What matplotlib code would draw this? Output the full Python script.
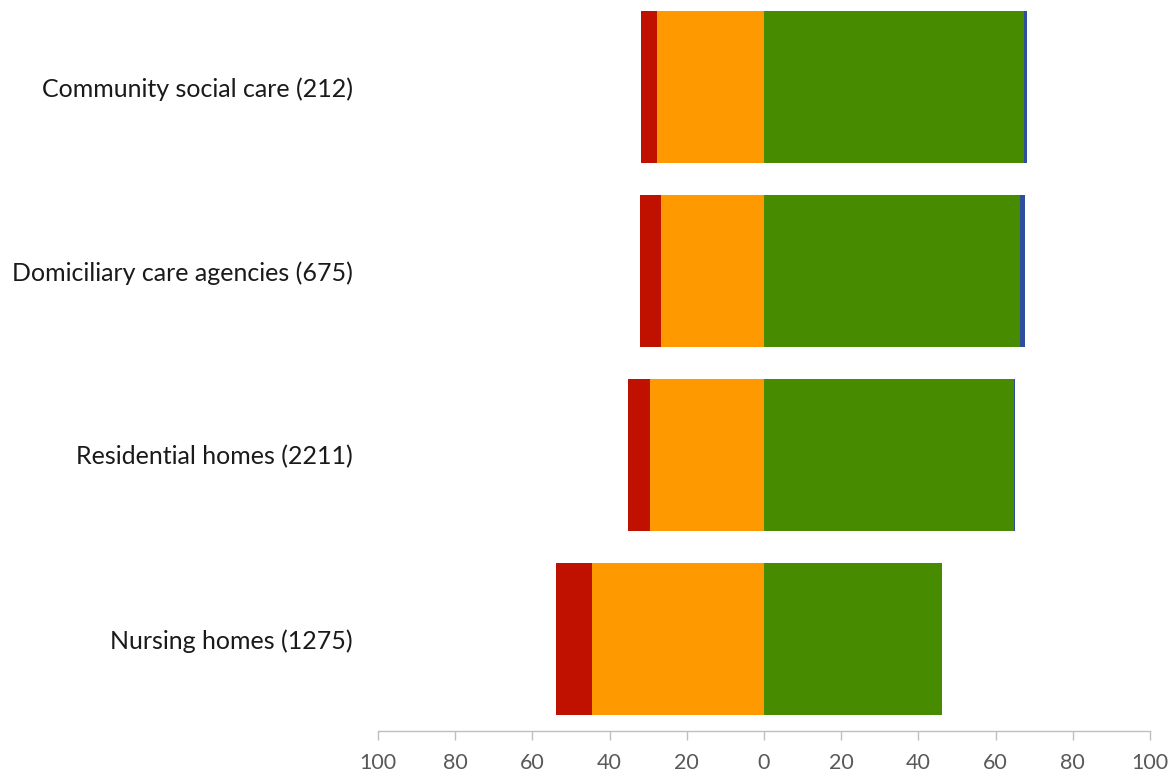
import matplotlib
matplotlib.use("Agg")
import matplotlib.pyplot as plt
from matplotlib.ticker import FuncFormatter
import numpy as np

categories = [
    "Community social care (212)",
    "Domiciliary care agencies (675)",
    "Residential homes (2211)",
    "Nursing homes (1275)",
]
# Percentages per rating band
inadequate = [4.2, 5.4, 5.6, 9.2]          # red, far left
requires_improvement = [27.6, 26.8, 29.6, 44.6]  # orange, next to zero
good = [67.3, 66.4, 64.7, 46.1]            # green, right of zero
outstanding = [0.9, 1.1, 0.2, 0.1]         # blue, far right

tick_values = [-100, -80, -60, -40, -20, 0, 20, 40, 60, 80, 100]

plt.rcParams["font.family"] = ["Lato", "DejaVu Sans"]

fig = plt.figure(figsize=(11.7, 7.76), dpi=100)
ax = fig.add_axes([378 / 1170, 1 - 731 / 776, (1150 - 378) / 1170, (731 + 5) / 776])

y = np.arange(len(categories))
h = 0.83
c_red, c_orange, c_green, c_blue = "#C01000", "#FF9900", "#478C00", "#2D4F9E"

ri = np.array(requires_improvement)
ax.barh(y, -ri, height=h, color=c_orange, linewidth=0)
ax.barh(y, -np.array(inadequate), left=-ri, height=h, color=c_red, linewidth=0)
g = np.array(good)
ax.barh(y, g, height=h, color=c_green, linewidth=0)
ax.barh(y, outstanding, left=g, height=h, color=c_blue, linewidth=0)

ax.set_xlim(-100, 100)
ax.set_ylim(len(categories) - 0.5, -0.5)
ax.set_yticks(y)
ax.set_yticklabels(categories, fontsize=18, color="#1a1a1a")
ax.tick_params(axis="y", length=0, pad=18)

ax.set_xticks(tick_values)
ax.xaxis.set_major_formatter(FuncFormatter(lambda v, p: f"{abs(int(round(v)))}"))
ax.tick_params(axis="x", length=6.5, width=1, color="#BFBFBF", labelsize=15.5,
               labelcolor="#595959", pad=9)

for s in ["top", "right", "left"]:
    ax.spines[s].set_visible(False)
ax.spines["bottom"].set_color("#BFBFBF")
ax.spines["bottom"].set_linewidth(1)

fig.savefig("out.png", dpi=100, facecolor="white")
